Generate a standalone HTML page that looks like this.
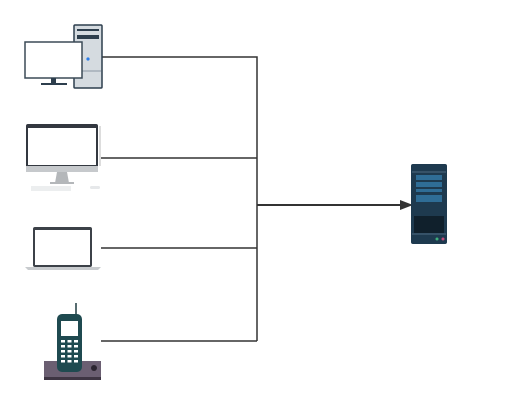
<!DOCTYPE html><html><head><style>html,body{margin:0;padding:0;background:#fff}</style></head><body>
<svg width="508" height="405" viewBox="0 0 508 405" xmlns="http://www.w3.org/2000/svg">
<g stroke="#333" stroke-width="1.5" fill="none">
<path d="M102 57H257V341M101 158H257M101 248H257M101 341H257"/>
<path d="M257 205H402" stroke-width="2"/>
</g>
<path d="M400 200L413 205L400 210Z" fill="#333"/>
<!-- desktop -->
<rect x="74" y="25" width="28" height="63" rx="1" fill="#d5dbe0" stroke="#2d3e4d" stroke-width="1.5"/>
<rect x="77" y="29" width="22" height="2" fill="#2d3e4d"/>
<rect x="77" y="35" width="22" height="4" fill="#2d3e4d"/>
<line x1="75" y1="71" x2="101" y2="71" stroke="#8a97a3"/>
<circle cx="88" cy="59" r="1.6" fill="#2b7de9"/>
<rect x="25" y="42" width="57" height="36" fill="#fff" stroke="#3b4a57" stroke-width="1.5"/>
<rect x="51" y="78" width="5" height="5" fill="#2d3e4d"/>
<rect x="41" y="83" width="26" height="2" fill="#2d3e4d"/>
<!-- imac -->
<rect x="26" y="124" width="72" height="44" rx="2" fill="#333840"/>
<rect x="28" y="128" width="68" height="37" fill="#fff"/>
<rect x="26" y="166" width="72" height="6" fill="#c6c9cc"/>
<path d="M57 172h10l2 11h-14z" fill="#b4b7ba"/>
<rect x="50" y="182" width="24" height="2" fill="#b4b7ba"/>
<rect x="31" y="186" width="40" height="5" fill="#eceeef"/>
<rect x="90" y="186" width="10" height="3" rx="1.5" fill="#e6e8ea"/>
<line x1="100" y1="126" x2="100" y2="166" stroke="#bbb"/>
<!-- laptop -->
<rect x="33" y="227" width="59" height="40" rx="2" fill="#3c4148"/>
<rect x="35" y="230" width="55" height="35" fill="#fff"/>
<path d="M25 267H101L98 270H28Z" fill="#c8cbce"/>
<!-- phone -->
<rect x="44" y="361" width="57" height="19" fill="#6b5f72"/>
<rect x="44" y="377" width="57" height="3" fill="#3e3543"/>
<circle cx="94" cy="368" r="3" fill="#2b2530"/>
<line x1="76" y1="303" x2="76" y2="316" stroke="#1f3a40" stroke-width="1.5"/>
<rect x="57" y="314" width="25" height="58" rx="5" fill="#1f4a50"/>
<rect x="61" y="321" width="17" height="15" fill="#fff"/>
<g fill="#fff">
<rect x="61" y="340" width="4" height="2.5"/><rect x="67.5" y="340" width="4" height="2.5"/><rect x="74" y="340" width="4" height="2.5"/>
<rect x="61" y="345" width="4" height="2.5"/><rect x="67.5" y="345" width="4" height="2.5"/><rect x="74" y="345" width="4" height="2.5"/>
<rect x="61" y="350" width="4" height="2.5"/><rect x="67.5" y="350" width="4" height="2.5"/><rect x="74" y="350" width="4" height="2.5"/>
<rect x="61" y="355" width="4" height="2.5"/><rect x="67.5" y="355" width="4" height="2.5"/><rect x="74" y="355" width="4" height="2.5"/>
<rect x="61" y="360" width="4" height="2.5"/><rect x="67.5" y="360" width="4" height="2.5"/><rect x="74" y="360" width="4" height="2.5"/>
</g>
<!-- server -->
<rect x="411" y="164" width="36" height="80" rx="2" fill="#1e3a4f"/>
<line x1="412" y1="172" x2="446" y2="172" stroke="#4d6b80"/>
<rect x="416" y="175" width="26" height="5" fill="#2f6d96"/>
<rect x="416" y="182" width="26" height="5" fill="#2f6d96"/>
<rect x="416" y="189" width="26" height="3" fill="#2f6d96"/>
<rect x="416" y="195" width="26" height="7" fill="#2f6d96"/>
<rect x="414" y="216" width="30" height="17" fill="#10202c"/>
<line x1="412" y1="234" x2="446" y2="234" stroke="#4d6b80"/>
<circle cx="437" cy="239" r="1.5" fill="#3fae7a"/>
<circle cx="443" cy="239" r="1.5" fill="#c34a7a"/>
</svg>
</body></html>
